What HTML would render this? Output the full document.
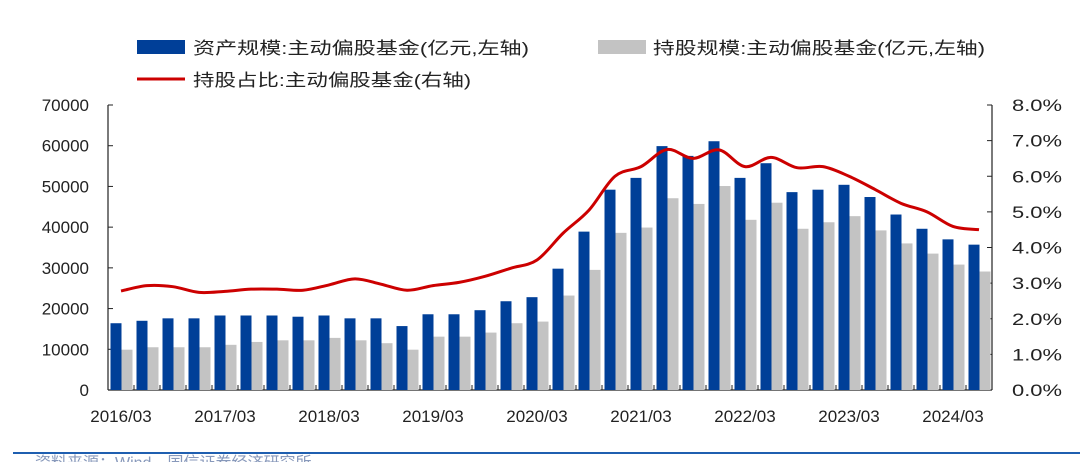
<!DOCTYPE html>
<html><head><meta charset="utf-8">
<style>
html,body{margin:0;padding:0;background:#fff;}
body{width:1080px;height:462px;overflow:hidden;position:relative;font-family:"Liberation Sans","Noto Sans CJK SC",sans-serif;}
svg text{font-family:"Liberation Sans","Noto Sans CJK SC",sans-serif;}
</style></head>
<body>
<svg id="chart" width="1080" height="462" xmlns="http://www.w3.org/2000/svg">
  <g>
    <g>
      <rect x="137" y="40" width="48" height="14" fill="#003f98"/>
      <text x="193" y="54" font-size="17" fill="#222" textLength="336" lengthAdjust="spacingAndGlyphs">资产规模:主动偏股基金(亿元,左轴)</text>
    </g>
    <g>
      <rect x="598" y="40" width="48" height="14" fill="#c3c3c3"/>
      <text x="653" y="54" font-size="17" fill="#222" textLength="332" lengthAdjust="spacingAndGlyphs">持股规模:主动偏股基金(亿元,左轴)</text>
    </g>
    <g>
      <line x1="137" y1="79" x2="185" y2="79" stroke="#cc0000" stroke-width="3"/>
      <text x="193" y="86" font-size="17" fill="#222" textLength="278" lengthAdjust="spacingAndGlyphs">持股占比:主动偏股基金(右轴)</text>
    </g>
  </g>
  <g id="grid"></g>
  <g id="bars"></g>
  <g id="line"></g>
  <line x1="13" y1="453" x2="1080" y2="453" stroke="#1f5fb0" stroke-width="2"/>
  <text x="35" y="468" font-size="16" fill="#8899bb">资料来源：Wind，国信证券经济研究所</text>
</svg>
<script>
const categories=[];
for(let y=2016;y<=2024;y++){for(const m of ['03','06','09','12']){if(y===2024&&(m==='09'||m==='12'))continue;categories.push(y+'/'+m);}}
const assetScale=[16400,17000,17600,17600,18300,18300,18300,18000,18300,17600,17600,15700,18600,18600,19600,21800,22800,29800,38900,49200,52100,59900,57500,61100,52100,55700,48600,49200,50400,47400,43100,39600,37000,35700];
const holdingScale=[9900,10500,10500,10500,11100,11800,12200,12200,12800,12200,11500,9900,13100,13100,14100,16400,16800,23200,29500,38600,39900,47100,45700,50100,41800,46000,39600,41200,42700,39200,36000,33500,30800,29100];
const holdingRatio=[2.78,2.93,2.90,2.74,2.77,2.83,2.83,2.80,2.95,3.12,2.97,2.80,2.93,3.02,3.19,3.42,3.65,4.40,5.05,6.00,6.27,6.75,6.50,6.74,6.27,6.53,6.24,6.27,6.00,5.63,5.24,5.00,4.59,4.50];
const leftTicks=[0,10000,20000,30000,40000,50000,60000,70000];
const rightTicks=[0,1,2,3,4,5,6,7,8];
const xTickLabels=['2016/03','2017/03','2018/03','2019/03','2020/03','2021/03','2022/03','2023/03','2024/03'];

const NS='http://www.w3.org/2000/svg';
const X0=108,X1=992,YB=390,YT=105;
const slot=(X1-X0)/categories.length;
const yL=v=>YB-(v/70000)*(YB-YT);
const yR=v=>YB-(v/8)*(YB-YT);
const xS=i=>X0+i*slot;
function mk(tag,attrs,parent){const e=document.createElementNS(NS,tag);for(const k in attrs)e.setAttribute(k,attrs[k]);parent.appendChild(e);return e;}
const grid=document.getElementById('grid');
const bars=document.getElementById('bars');
const lineG=document.getElementById('line');

let ax=mk('line',{x1:X0,y1:YT,x2:X0,y2:YB,stroke:'#222','stroke-width':1.2},grid);


let axr=mk('line',{x1:X1,y1:YT,x2:X1,y2:YB,stroke:'#222','stroke-width':1.2},grid);


let axb=mk('line',{x1:X0,y1:YB,x2:X1,y2:YB,stroke:'#222','stroke-width':1.2},grid);


leftTicks.forEach(v=>{
  const y=yL(v);
  mk('line',{x1:X0,y1:y,x2:X0+5,y2:y,stroke:'#222'},grid);
  const t=mk('text',{x:89,y:y+6,'font-size':17,'text-anchor':'end',fill:'#222'},grid);
  t.textContent=v;
  
  
});
rightTicks.forEach(v=>{
  const y=yR(v);
  mk('line',{x1:X1-5,y1:y,x2:X1,y2:y,stroke:'#222'},grid);
  const t=mk('text',{x:1012,y:y+6,'font-size':17,fill:'#222',textLength:50,lengthAdjust:'spacingAndGlyphs'},grid);
  t.textContent=v.toFixed(1)+'%';
  
  
});
for(let i=0;i<=categories.length;i++){
  mk('line',{x1:xS(i),y1:YB,x2:xS(i),y2:YB-5,stroke:'#222'},grid);
}
xTickLabels.forEach(lab=>{
  const i=categories.indexOf(lab);
  const t=mk('text',{x:xS(i)+slot/2,y:422,'font-size':17,'text-anchor':'middle',fill:'#222'},grid);
  t.textContent=lab;
  
  
});
const bw=11;
categories.forEach((c,i)=>{
  const x=xS(i)+2.5;
  const b=mk('rect',{x:x,y:yL(assetScale[i]),width:bw,height:YB-yL(assetScale[i]),fill:'#003f98'},bars);
  
  
  const g=mk('rect',{x:x+bw,y:yL(holdingScale[i]),width:bw,height:YB-yL(holdingScale[i]),fill:'#c3c3c3'},bars);
  
  
});
const pts=holdingRatio.map((v,i)=>[xS(i)+slot/2,yR(v)]);
let d='M'+pts[0][0]+','+pts[0][1];
for(let i=0;i<pts.length-1;i++){
  const p0=pts[Math.max(0,i-1)],p1=pts[i],p2=pts[i+1],p3=pts[Math.min(pts.length-1,i+2)];
  const c1=[p1[0]+(p2[0]-p0[0])/6,p1[1]+(p2[1]-p0[1])/6];
  const c2=[p2[0]-(p3[0]-p1[0])/6,p2[1]-(p3[1]-p1[1])/6];
  d+=' C'+c1+' '+c2+' '+p2;
}
const path=mk('path',{d:d,fill:'none',stroke:'#cc0000','stroke-width':3},lineG);


</script>
</body></html>
